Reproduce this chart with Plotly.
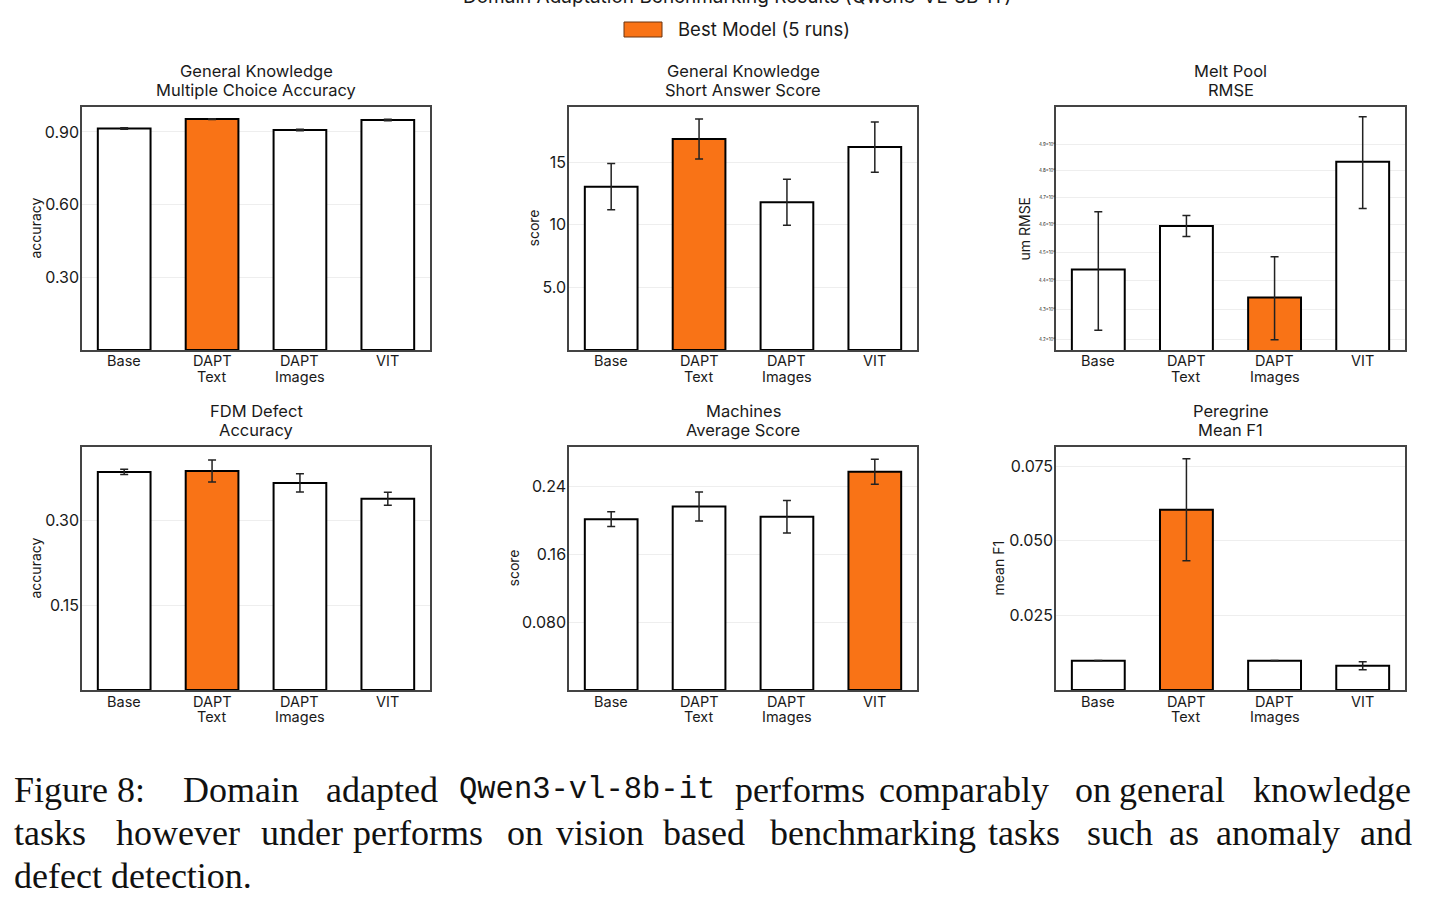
import plotly.graph_objects as go

W, H = 1435, 910

# ---------------- data ----------------
categories = ["Base", "DAPT<br>Text", "DAPT<br>Images", "VIT"]

gk_mc_acc = [0.914, 0.953, 0.908, 0.949]
gk_mc_err = [0.003, 0.002, 0.003, 0.003]

gk_sa_score = [13.04, 16.84, 11.80, 16.20]
gk_sa_err = [1.84, 1.60, 1.84, 2.00]

melt_rmse = [443.8, 459.4, 434.1, 483.3]
melt_err = [20.8, 3.8, 14.2, 17.5]

fdm_acc = [0.3865, 0.3882, 0.3670, 0.3388]
fdm_err = [0.0045, 0.0194, 0.0160, 0.0115]

mach_score = [0.2018, 0.2168, 0.2046, 0.2579]
mach_err = [0.0087, 0.0172, 0.0192, 0.0147]

pere_f1 = [0.00983, 0.0604, 0.00983, 0.00815]
pere_err = [0.00005, 0.0171, 0.00005, 0.00134]

melt_ticks = [420, 430, 440, 450, 460, 470, 480, 490]
melt_ticktext = ["4.2×10²", "4.3×10²", "4.4×10²", "4.5×10²",
                 "4.6×10²", "4.7×10²", "4.8×10²", "4.9×10²"]

panels = [
    dict(title=["General Knowledge", "Multiple Choice Accuracy"], y=gk_mc_acc, e=gk_mc_err, best=1,
         ylabel="accuracy", rng=[0, 1.003], tv=[0.3, 0.6, 0.9], tt=["0.30", "0.60", "0.90"], log=False),
    dict(title=["General Knowledge", "Short Answer Score"], y=gk_sa_score, e=gk_sa_err, best=1,
         ylabel="score", rng=[0, 19.4], tv=[5, 10, 15], tt=["5.0", "10", "15"], log=False),
    dict(title=["Melt Pool", "RMSE"], y=melt_rmse, e=melt_err, best=2,
         ylabel="um RMSE", rng=[2.6196, 2.7030], tv=melt_ticks, tt=melt_ticktext, log=True),
    dict(title=["FDM Defect", "Accuracy"], y=fdm_acc, e=fdm_err, best=1,
         ylabel="accuracy", rng=[0, 0.4306], tv=[0.15, 0.30], tt=["0.15", "0.30"], log=False),
    dict(title=["Machines", "Average Score"], y=mach_score, e=mach_err, best=3,
         ylabel="score", rng=[0, 0.2871], tv=[0.08, 0.16, 0.24], tt=["0.080", "0.16", "0.24"], log=False),
    dict(title=["Peregrine", "Mean F1"], y=pere_f1, e=pere_err, best=1,
         ylabel="mean F1", rng=[0, 0.0814], tv=[0.025, 0.05, 0.075], tt=["0.025", "0.050", "0.075"], log=False),
]

# ---------------- layout geometry (pixels) ----------------
col_x = [(82, 430), (569, 917), (1056, 1405)]
row_y = [(107, 350), (447, 690)]
ylabel_x = [35, 533, 1024, 35, 513, 998]

ORANGE = "#F97316"
FONT = "Inter"
TXT = "#1a1a1a"

def px(x):
    return x / W

def py(y):
    return 1 - y / H

fig = go.Figure()
layout = dict(
    width=W, height=H,
    margin=dict(l=0, r=0, t=0, b=0),
    paper_bgcolor="white", plot_bgcolor="white",
    showlegend=False,
    font=dict(family=FONT, color=TXT),
)
annotations = []

for i, p in enumerate(panels):
    r, c = divmod(i, 3)
    n = "" if i == 0 else str(i + 1)
    xa, ya = "x" + n, "y" + n
    colors = [ORANGE if k == p["best"] else "white" for k in range(len(categories))]
    xs = list(range(len(categories)))
    fig.add_trace(go.Bar(
        x=xs, y=p["y"], xaxis=xa, yaxis=ya,
        width=0.6,
        marker=dict(color=colors, line=dict(color="black", width=2)),
        error_y=dict(type="data", array=p["e"], visible=True, color="#222222",
                     thickness=1.5, width=4),
    ))
    x0, x1 = col_x[c]
    y0, y1 = row_y[r]
    layout["xaxis" + n] = dict(
        domain=[px(x0), px(x1)], anchor=ya, range=[-0.48, 3.48],
        showticklabels=False,
        showline=True, mirror=True, linecolor="#444444", linewidth=1.5,
        showgrid=False, zeroline=False, ticks="", fixedrange=True,
    )
    yd = dict(
        domain=[py(y1), py(y0)], anchor=xa, range=p["rng"],
        tickmode="array", tickvals=p["tv"], ticktext=p["tt"],
        tickfont=dict(size=4.5 if p["log"] else 16, family=FONT, color=TXT),
        showline=True, mirror=True, linecolor="#444444", linewidth=1.5,
        showgrid=True, gridcolor="#eeeeee", gridwidth=1,
        zeroline=False, ticks="", ticklabelstandoff=-2,
    )
    if p["log"]:
        yd["type"] = "log"
    layout["yaxis" + n] = yd

    # category labels (one annotation per text line)
    for k, cat in enumerate(categories):
        for j, part in enumerate(cat.split("<br>")):
            annotations.append(dict(
                text=part, xref=xa, yref="paper", x=xs[k], y=py(y1 + 11 + 15.5 * j),
                xanchor="center", yanchor="middle", showarrow=False,
                font=dict(size=14.5, family=FONT, color=TXT),
            ))

    # panel title (two lines)
    for j, part in enumerate(p["title"]):
        annotations.append(dict(
            text=part, xref="paper", yref="paper",
            x=px((x0 + x1) / 2), y=py(y0 - 36 + 19 * j), xanchor="center", yanchor="middle",
            showarrow=False, font=dict(size=16.5, family=FONT, color=TXT),
        ))
    # y-axis label
    annotations.append(dict(
        text=p["ylabel"], xref="paper", yref="paper",
        x=px(ylabel_x[i]), y=py((y0 + y1) / 2), xanchor="center", yanchor="middle",
        textangle=-90, showarrow=False, font=dict(size=14, family=FONT, color=TXT),
    ))

# Suptitle (cut off at top of image, as in the reference)
annotations.append(dict(
    text="Domain Adaptation Benchmarking Results (Qwen3-VL-8B-IT)", xref="paper", yref="paper",
    x=px(737), y=py(-4), xanchor="center", yanchor="middle", showarrow=False,
    font=dict(size=19, family=FONT, color=TXT),
))
# Legend text
annotations.append(dict(
    text="Best Model (5 runs)", xref="paper", yref="paper",
    x=px(676), y=py(29.5), xanchor="left", yanchor="middle", showarrow=False,
    font=dict(size=18.5, family=FONT, color=TXT),
))

# Caption placed word by word (justified text)
serif = "Liberation Serif"
mono = "Liberation Mono"
line1 = [("Figure 8:", 15, serif), ("Domain", 184, serif), ("adapted", 327, serif),
         ("Qwen3-vl-8b-it", 460, mono), ("performs", 736, serif), ("comparably", 880, serif),
         ("on", 1076, serif), ("general", 1120, serif), ("knowledge", 1254, serif)]
line2 = [("tasks", 15, serif), ("however", 117, serif), ("under", 262, serif),
         ("performs", 354, serif), ("on", 508, serif), ("vision", 557, serif),
         ("based", 664, serif), ("benchmarking", 771, serif), ("tasks", 989, serif),
         ("such", 1088, serif), ("as", 1170, serif), ("anomaly", 1217, serif), ("and", 1361, serif)]
line3 = [("defect detection.", 15, serif)]
for words, yc in [(line1, 790), (line2, 833), (line3, 876)]:
    for w, xw, f in words:
        annotations.append(dict(
            text=w, xref="paper", yref="paper", x=px(xw - 3), y=py(yc),
            xanchor="left", yanchor="middle", showarrow=False,
            font=dict(size=30.5 if f == mono else 36, family=f, color="#111111"),
        ))

layout["annotations"] = annotations
layout["shapes"] = [dict(
    type="rect", xref="paper", yref="paper",
    x0=px(624), x1=px(662), y0=py(37), y1=py(22),
    fillcolor=ORANGE, line=dict(color="#6b3410", width=1),
)]
fig.update_layout(**layout)
fig.write_html("out.html")
